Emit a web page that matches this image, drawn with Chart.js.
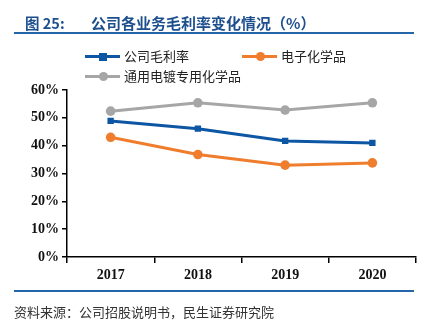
<!DOCTYPE html>
<html>
<head>
<meta charset="utf-8">
<script src="https://cdn.jsdelivr.net/npm/chart.js@4"></script>
<style>
  html,body{margin:0;padding:0;background:#fff;}
  #wrap{position:relative;width:426px;height:326px;overflow:hidden;font-family:"Noto Sans CJK SC",sans-serif;}
  #c{position:absolute;left:0;top:0;}
  .title{position:absolute;top:13px;left:25px;font-size:14.5px;font-weight:bold;color:#1d4f8e;white-space:nowrap;line-height:20px;}
  .title span{position:absolute;left:66px;top:0;font-size:15px;}
  .rule{position:absolute;left:14px;width:400px;height:2px;background:#2566a8;}
  .lg{position:absolute;font-size:13px;color:#222;white-space:nowrap;line-height:16px;}
  .lg i{position:absolute;top:7px;left:0;width:35px;height:3px;}
  .lg b{position:absolute;top:4px;left:14px;width:9px;height:9px;border-radius:50%;}
  .lg b.sq{border-radius:0;width:8px;height:8px;left:14px;top:4.5px;}
  .lg em{font-style:normal;position:absolute;left:39px;top:0;}
  .src{position:absolute;left:14px;top:302px;font-size:13px;color:#333;white-space:nowrap;}
</style>
</head>
<body>
<div id="wrap">
  <canvas id="c" width="426" height="326"></canvas>
  <div class="title">图 25:<span>公司各业务毛利率变化情况（%）</span></div>
  <div class="rule" style="top:32px"></div>
  <div id="legend"></div>
  <div class="rule" style="top:290px"></div>
  <div class="src">资料来源：公司招股说明书，民生证券研究院</div>
</div>
<script>
const years = ['2017','2018','2019','2020'];
const grossMargin = [48.9, 46.1, 41.7, 41.0];
const electronicChem = [43.0, 36.8, 33.0, 33.8];
const platingChem = [52.4, 55.4, 52.8, 55.4];
const yTicks = [0,10,20,30,40,50,60];

const series = [
  {label:'公司毛利率', data:grossMargin, color:'#0d56a4', style:'rect', lx:85, ly:48},
  {label:'电子化学品', data:electronicChem, color:'#ef7d2d', style:'circle', lx:242, ly:48},
  {label:'通用电镀专用化学品', data:platingChem, color:'#a6a6a6', style:'circle', lx:85, ly:68}
];

const lg = document.getElementById('legend');
series.forEach(s=>{
  const d = document.createElement('div');
  d.className = 'lg';
  d.style.left = s.lx+'px'; d.style.top = s.ly+'px';
  d.innerHTML = `<i style="background:${s.color}"></i><b class="${s.style==='rect'?'sq':''}" style="background:${s.color}"></b><em>${s.label}</em>`;
  lg.appendChild(d);
});

const tickFont = {family:'"Liberation Serif", serif', size:14, weight:'bold'};

new Chart(document.getElementById('c'), {
  type:'line',
  data:{
    labels:years,
    datasets:[series[2], series[0], series[1]].map(s=>({
      label:s.label, data:s.data, borderColor:s.color, backgroundColor:s.color,
      borderWidth:3, pointStyle:s.style, pointRadius:s.style==='rect'?4.5:4.8,
      pointBorderWidth:0, tension:0
    }))
  },
  options:{
    responsive:false, animation:false,
    layout:{padding:{top:90,left:0,right:10,bottom:0}},
    plugins:{legend:{display:false}, tooltip:{enabled:false}},
    scales:{
      x:{
        offset:true,
        grid:{offset:true, drawOnChartArea:false, drawTicks:true, tickLength:6,
              color:ctx=>ctx.index===years.length?'rgba(0,0,0,0)':'#000', lineWidth:1.5},
        border:{color:'#000', width:1.5},
        ticks:{color:'#111', font:tickFont, padding:4},
        afterFit:sc=>{sc.height=69;}
      },
      y:{
        min:0, max:60,
        afterBuildTicks:sc=>{sc.ticks=yTicks.map(v=>({value:v}));},
        grid:{drawOnChartArea:false, drawTicks:true, tickLength:5, color:'#000', lineWidth:1.5},
        border:{color:'#000', width:1.5},
        ticks:{color:'#111', font:tickFont, padding:3, callback:v=>v+'%'},
        afterFit:sc=>{sc.width=67;}
      }
    }
  }
});
</script>
</body>
</html>
